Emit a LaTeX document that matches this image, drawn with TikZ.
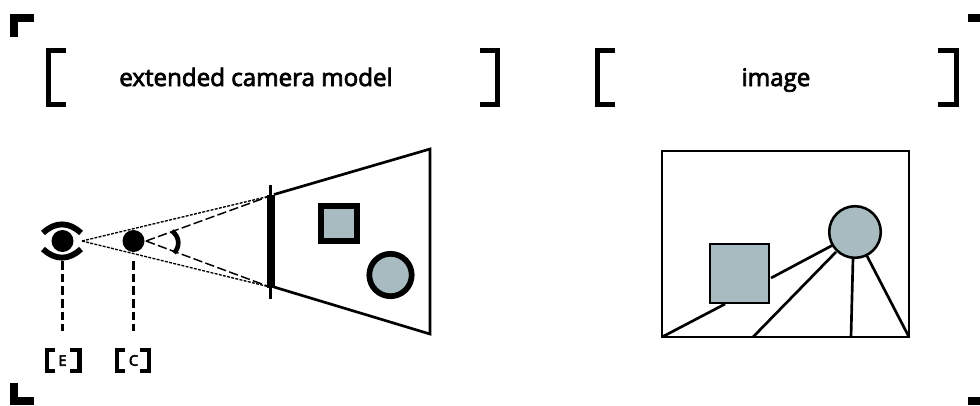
\documentclass[tikz,border=0pt]{standalone}
\usepackage{fontspec}
\setmainfont{Open Sans}
\newcommand{\heavy}[2]{\special{pdf:code q 2 Tr #1 w}#2\special{pdf:code Q}}
\definecolor{fillgrey}{HTML}{A7BBC0}
\tikzset{
  x=0.75pt,y=-0.75pt,
  lbl/.style={inner sep=0pt,anchor=base,font=\fontsize{18.1pt}{20pt}\selectfont},
  small/.style={inner sep=0pt,font=\fontsize{11pt}{12pt}\selectfont},
  corner/.style={line width=6pt,miter limit=10},
  brk/.style={line width=4.1pt},
  sbrk/.style={line width=3.1pt},
  frame/.style={line width=2pt},
  obj/.style={draw=black,fill=fillgrey},
  leader/.style={line width=1.6pt,dash pattern=on 6.5pt off 3pt},
  ray/.style={line width=1pt,dash pattern=on 2.2pt off 1pt},
  longray/.style={line width=1.1pt,dash pattern=on 7pt off 2.5pt},
}
\begin{document}
\begin{tikzpicture}
\useasboundingbox (0,0) rectangle (980,405);
\fill[white] (0,0) rectangle (980,405);
% corner marks
\draw[corner] (14,37) -- (14,18) -- (34,18);
\draw[corner] (14,383) -- (14,401) -- (34,401);
\draw[corner] (968,18) -- (980,18);
\draw[corner] (968,401) -- (980,401);
% title brackets
\draw[brk] (66,50.5) -- (48.5,50.5) -- (48.5,104.5) -- (66,104.5);
\draw[brk] (480,50.5) -- (497.5,50.5) -- (497.5,104.5) -- (480,104.5);
\draw[brk] (615,50.5) -- (597.5,50.5) -- (597.5,104.5) -- (615,104.5);
\draw[brk] (938,50.5) -- (956.5,50.5) -- (956.5,104.5) -- (938,104.5);
\node[lbl] (title1) at (256,86) {\heavy{0.55}{extended camera model}};
\node[lbl] (title2) at (776,86) {\heavy{0.55}{image}};
% eye and camera
\node[circle,fill=black,minimum size=16.5pt,inner sep=0pt] (eye) at (62.5,241) {};
\node[circle,fill=black,minimum size=16.5pt,inner sep=0pt] (cam) at (133.5,241) {};
\draw[line width=4.4pt] (43,233) .. controls (55,221.5) and (69,221.5) .. (81,233);
\draw[line width=4.4pt] (43,249) .. controls (55,260.5) and (69,260.5) .. (81,249);
\coordinate (eyeapex) at (82,241);
\coordinate (planetop) at (270,196);
\coordinate (planebot) at (270,287);
\coordinate (eyefoot) at (62.5,331);
\coordinate (camfoot) at (133.5,331);
\draw[ray] (eyeapex) -- (planetop);
\draw[ray] (eyeapex) -- (planebot);
\draw[longray] (146,241) -- (planetop);
\draw[longray] (146,241) -- (planebot);
\draw[line width=3.5pt] (172,231) .. controls (180,237) and (180,247) .. (174,253);
\draw[leader] (62.5,261) -- (eyefoot);
\draw[leader] (133.5,261) -- (camfoot);
% image plane
\fill[black] (266.5,195) rectangle (275,288);
\draw[line width=1.9pt] (270.5,185) -- (270.5,299);
% frustum
\draw[frame,line join=miter] (274,194.5) -- (430,149) -- (430,334) -- (274,287);
\draw[obj,line width=4.6pt] (321,206) rectangle (357,241);
\draw[obj,line width=4.3pt] (390.5,275) circle[radius=21.2];
% E, C labels
\draw[sbrk] (55,350) -- (47,350) -- (47,371) -- (55,371);
\draw[sbrk] (70,350) -- (79.5,350) -- (79.5,371) -- (70,371);
\draw[sbrk] (125,350) -- (117,350) -- (117,371) -- (125,371);
\draw[sbrk] (140,350) -- (149,350) -- (149,371) -- (140,371);
\node[small] (labE) at (62.5,360.5) {\heavy{0.4}{E}};
\node[small] (labC) at (133.5,360.5) {\heavy{0.4}{C}};
% image panel
\draw[frame] (662,151) rectangle (909,337);
\node[obj,line width=1.9pt,minimum size=44pt,inner sep=0pt,outer sep=0pt] (sq) at (739.5,273.5) {};
\node[obj,line width=1.9pt,circle,minimum size=38.7pt,inner sep=0pt,outer sep=0pt] (ci) at (855,232) {};
\coordinate (bl) at (662,337);
\coordinate (bm) at (753,337);
\coordinate (bn) at (851,337);
\coordinate (br) at (909,337);
\draw[frame] (bl) -- (725,304);
\draw[frame] (771,278) -- (833,245);
\draw[frame] (bm) -- (836,252);
\draw[frame] (bn) -- (853,258);
\draw[frame] (br) -- (867,256);
\end{tikzpicture}
\end{document}
